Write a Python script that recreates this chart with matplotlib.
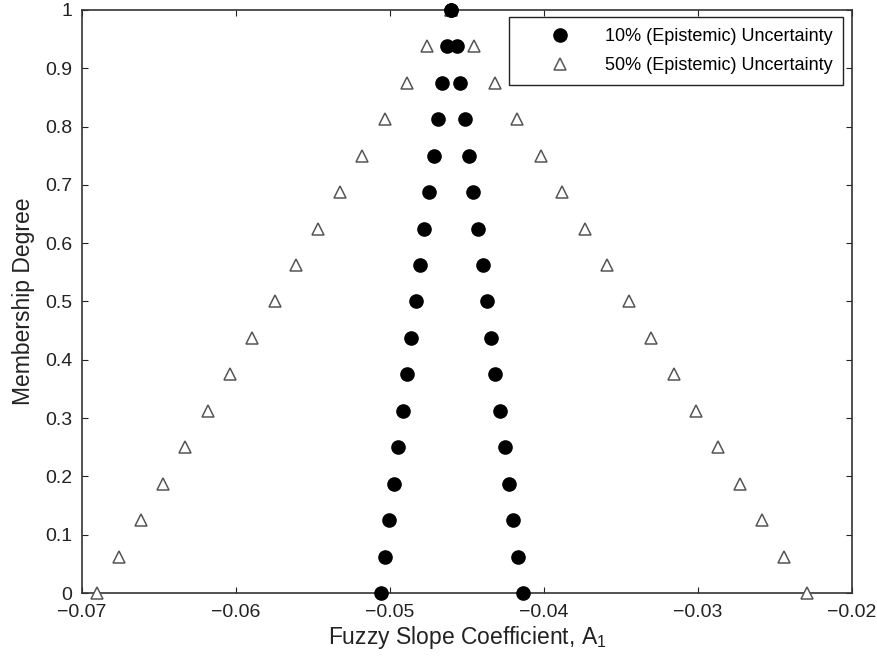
import matplotlib
matplotlib.use('Agg')
import matplotlib.pyplot as plt

plt.rcParams['font.family'] = ['Liberation Sans', 'DejaVu Sans']
plt.rcParams['mathtext.default'] = 'regular'

# membership levels (alpha cuts)
membership = [0, 0.0625, 0.125, 0.1875, 0.25, 0.3125, 0.375, 0.4375, 0.5,
              0.5625, 0.625, 0.6875, 0.75, 0.8125, 0.875, 0.9375, 1]

# 10% uncertainty, left and right bounds of each cut
low10 = [-0.05058, -0.05032, -0.05004, -0.04976, -0.04947, -0.04915, -0.04889,
         -0.04861, -0.04833, -0.04802, -0.04776, -0.04744, -0.04716, -0.04690,
         -0.04661, -0.04629, -0.04607]
high10 = [-0.04135, -0.04170, -0.04200, -0.04228, -0.04256, -0.04287, -0.04315,
          -0.04343, -0.04373, -0.04399, -0.04430, -0.04460, -0.04488, -0.04514,
          -0.04547, -0.04568, -0.04607]

# 50% uncertainty
low50 = [-0.06904, -0.06759, -0.06618, -0.06471, -0.06328, -0.06185, -0.06038,
         -0.05897, -0.05750, -0.05609, -0.05466, -0.05322, -0.05180, -0.05030,
         -0.04889, -0.04757, -0.04607]
high50 = [-0.02294, -0.02440, -0.02587, -0.02728, -0.02873, -0.03014, -0.03159,
          -0.03307, -0.03448, -0.03593, -0.03736, -0.03881, -0.04022, -0.04178,
          -0.04315, -0.04456, -0.04607]

xticks = [-0.07, -0.06, -0.05, -0.04, -0.03, -0.02]
xticklabels = ['\u22120.07', '\u22120.06', '\u22120.05', '\u22120.04', '\u22120.03', '\u22120.02']
yticks = [0, 0.1, 0.2, 0.3, 0.4, 0.5, 0.6, 0.7, 0.8, 0.9, 1]
yticklabels = ['0', '0.1', '0.2', '0.3', '0.4', '0.5', '0.6', '0.7', '0.8', '0.9', '1']

fig = plt.figure(figsize=(8.77, 6.66), dpi=100)
ax = fig.add_axes([0.0935, 0.1096, 0.878, 0.8754])

ax.plot(low10 + high10, membership + membership, 'o', color='black',
        markersize=9.5, clip_on=False, zorder=4,
        label='10% (Epistemic) Uncertainty')
ax.plot(low50 + high50, membership + membership, '^', markerfacecolor='white',
        markeredgecolor='#555555', markeredgewidth=1.1, markersize=9,
        clip_on=False, zorder=3, label='50% (Epistemic) Uncertainty')

ax.set_xlim(-0.07, -0.02)
ax.set_ylim(0, 1)
ax.set_xticks(xticks)
ax.set_xticklabels(xticklabels)
ax.set_yticks(yticks)
ax.set_yticklabels(yticklabels)
ax.tick_params(direction='in', top=True, right=True, length=4, width=0.8,
               labelsize=14, colors='#222222')
ax.tick_params(axis='x', pad=8)
ax.tick_params(axis='y', pad=7)
for s in ax.spines.values():
    s.set_linewidth(1.2)
    s.set_color('#333333')

ax.set_xlabel('Fuzzy Slope Coefficient, A$_1$', fontsize=16.5, color='#222222',
              labelpad=2)
ax.set_ylabel('Membership Degree', fontsize=16.5, color='#222222', labelpad=7)

leg = ax.legend(loc='upper right', bbox_to_anchor=(0.9883, 0.988),
                borderaxespad=0, fancybox=False, framealpha=1,
                edgecolor='#222222', fontsize=13, handletextpad=0.2,
                borderpad=0.6, labelspacing=0.7, handlelength=4.5)
leg.get_frame().set_linewidth(1.0)

plt.savefig('out.png', dpi=100)
